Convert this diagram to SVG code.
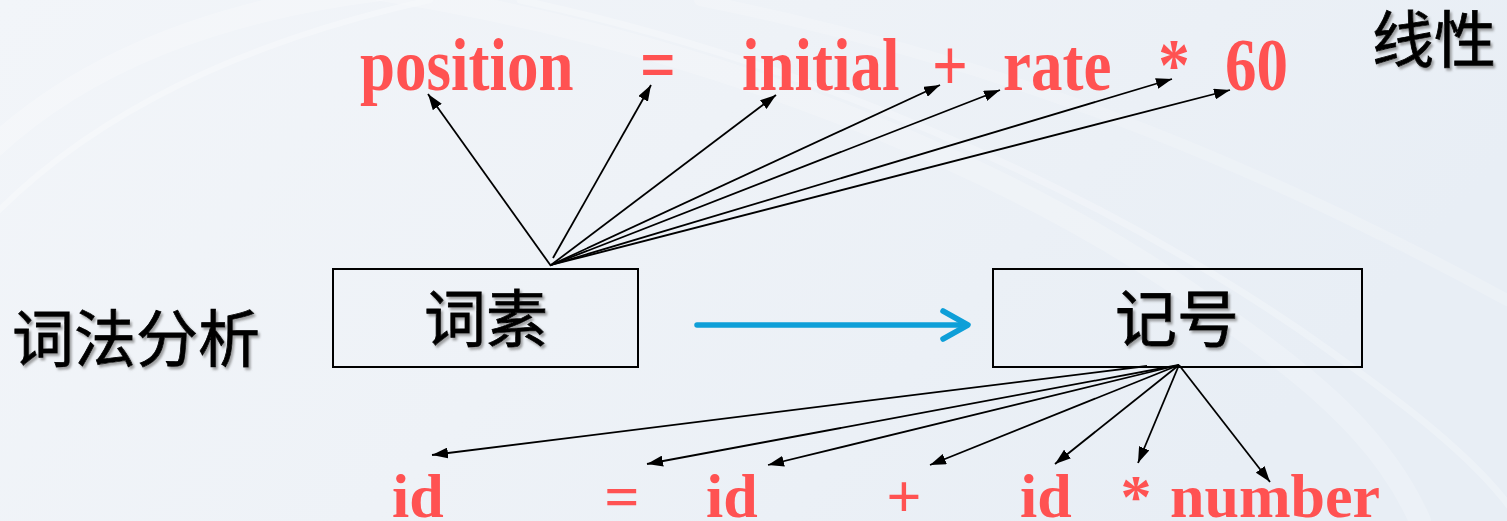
<svg xmlns="http://www.w3.org/2000/svg" width="1507" height="521" viewBox="0 0 1507 521">
  <defs>
    <linearGradient id="bg" x1="0" y1="0" x2="1" y2="0.3">
      <stop offset="0" stop-color="#f2f5f9"/>
      <stop offset="0.5" stop-color="#eef2f7"/>
      <stop offset="1" stop-color="#e8eef5"/>
    </linearGradient>
    <marker id="tip" viewBox="0 0 16 11" refX="16" refY="5.5" markerWidth="16" markerHeight="11" markerUnits="userSpaceOnUse" orient="auto">
      <path d="M0,0 L16,5.5 L0,11 Z" fill="#000"/>
    </marker>
    <filter id="shadow" x="-10%" y="-10%" width="130%" height="140%">
      <feDropShadow dx="2" dy="2.5" stdDeviation="1.2" flood-color="#6a6a6a" flood-opacity="0.6"/>
    </filter>
    <style>
      .tok { font-family: "Liberation Serif", "Times New Roman", serif; font-weight: bold; font-size: 62px; fill: #ff5252; }
      .top { font-size: 63px; }
      .mid { text-anchor: middle; }
      .cjk { font-family: "Liberation Sans", "Noto Sans CJK SC", sans-serif; font-size: 62px; fill: #000; stroke: #000; stroke-width: 0.8; filter: url(#shadow); }
      .box { fill: none; stroke: #000; stroke-width: 2; }
      .link { fill: none; stroke: #000; stroke-width: 1.8; marker-end: url(#tip); }
      .flow { fill: none; stroke: #0e9fd8; stroke-width: 5.5; stroke-linecap: round; stroke-linejoin: round; }
      .swoosh { fill: none; stroke: #ffffff; stroke-linecap: round; }
    </style>
  </defs>

  <!-- background -->
  <rect x="0" y="0" width="1507" height="521" fill="url(#bg)"/>
  <g opacity="0.4">
    <path class="swoosh" d="M-20,160 C80,60 220,10 380,-10" stroke-width="22" opacity="0.6"/>
    <path class="swoosh" d="M-20,230 C90,110 250,40 430,0" stroke-width="6" opacity="0.7"/>
    <path class="swoosh" d="M380,-10 C700,40 1000,160 1200,300 C1300,370 1380,430 1420,521" stroke-width="22" opacity="0.5"/>
    <path class="swoosh" d="M520,0 C800,60 1080,180 1300,330 C1400,400 1480,460 1520,521" stroke-width="7" opacity="0.6"/>
    <path class="swoosh" d="M700,0 C1000,60 1250,160 1507,300" stroke-width="12" opacity="0.45"/>
  </g>

  <!-- connectors -->
  <g id="connectors">
    <line class="link" x1="551" y1="266" x2="428" y2="94"/>
    <line class="link" x1="553" y1="258" x2="651" y2="85"/>
    <line class="link" x1="551" y1="265" x2="776" y2="95"/>
    <line class="link" x1="551" y1="265" x2="940" y2="85"/>
    <line class="link" x1="551" y1="265" x2="1000" y2="90"/>
    <line class="link" x1="551" y1="265" x2="1172" y2="79"/>
    <line class="link" x1="551" y1="265" x2="1230" y2="90"/>

    <line class="link" x1="1147" y1="366" x2="432" y2="455"/>
    <line class="link" x1="1179" y1="365" x2="647" y2="464"/>
    <line class="link" x1="1179" y1="365" x2="768" y2="465"/>
    <line class="link" x1="1179" y1="365" x2="930" y2="465"/>
    <line class="link" x1="1179" y1="365" x2="1055" y2="464"/>
    <line class="link" x1="1179" y1="365" x2="1138" y2="463"/>
    <line class="link" x1="1179" y1="365" x2="1270" y2="482"/>

    <path class="flow" d="M697,325 L966,325"/>
    <path class="flow" d="M943,311 L968,325 L943,339"/>
  </g>

  <!-- lexeme stream -->
  <g id="lexemes" transform="translate(0,90) scale(1,1.18)">
    <text class="tok top" x="360" y="0">position</text>
    <text class="tok top mid" x="658" y="0">=</text>
    <text class="tok top" x="742" y="0">initial</text>
    <text class="tok top mid" x="950" y="0">+</text>
    <text class="tok top" x="1003" y="0">rate</text>
    <text class="tok top mid" x="1174" y="0">*</text>
    <text class="tok top" x="1225" y="0">60</text>
  </g>

  <!-- token stream -->
  <g id="tokens">
    <text class="tok" x="392" y="517">id</text>
    <text class="tok mid" x="622" y="517">=</text>
    <text class="tok" x="706" y="517">id</text>
    <text class="tok mid" x="904" y="517">+</text>
    <text class="tok" x="1020" y="517">id</text>
    <text class="tok mid" x="1136" y="517">*</text>
    <text class="tok" x="1170" y="517">number</text>
  </g>

  <g id="label-linear">
    <text class="cjk" x="1372" y="63">线性</text>
  </g>
  <g id="label-lexical">
    <text class="cjk" x="12" y="362">词法分析</text>
  </g>

  <g id="node-lexeme">
    <rect class="box" x="333" y="269" width="305" height="98"/>
    <text class="cjk mid" x="486" y="342">词素</text>
  </g>
  <g id="node-token">
    <rect class="box" x="993" y="269" width="369" height="98"/>
    <text class="cjk mid" x="1177" y="342">记号</text>
  </g>
</svg>
